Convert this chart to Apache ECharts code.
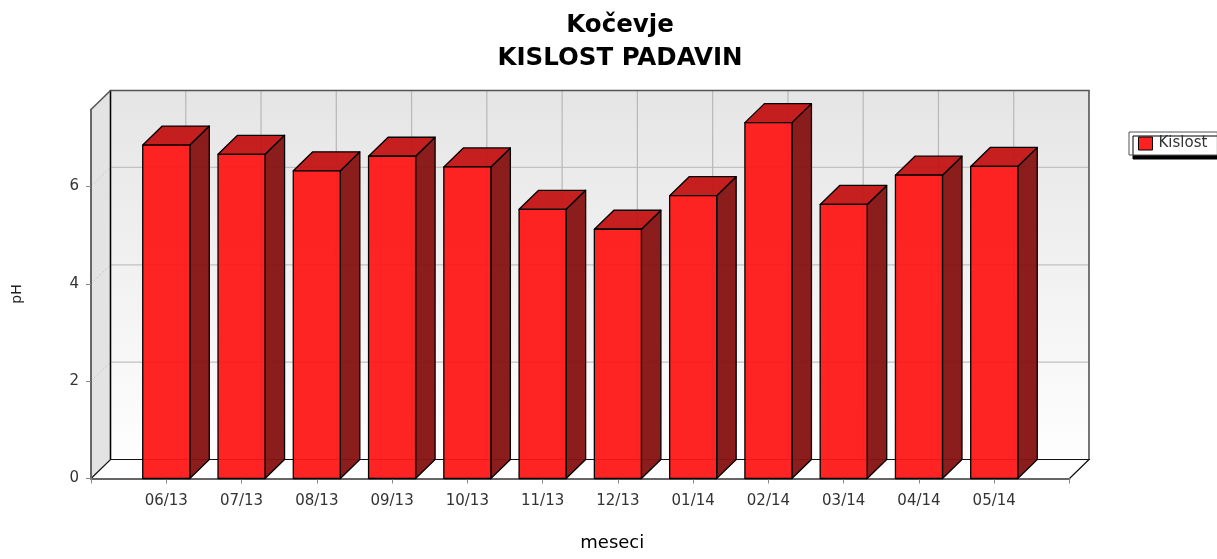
<!DOCTYPE html>
<html>
<head>
<meta charset="utf-8">
<title>Kočevje – kislost padavin</title>
<script src="https://cdn.jsdelivr.net/npm/echarts@6/dist/echarts.min.js"></script>
<style>
  html, body { margin: 0; padding: 0; background: #ffffff; }
  #chart { width: 1217px; height: 559px; }
</style>
</head>
<body>
<div id="chart"></div>
<script>
// Monthly precipitation acidity (pH), Kočevje
const categories = ['06/13', '07/13', '08/13', '09/13', '10/13', '11/13',
                    '12/13', '01/14', '02/14', '03/14', '04/14', '05/14'];
const phValues = [6.85, 6.66, 6.32, 6.62, 6.40, 5.53, 5.12, 5.81, 7.31, 5.63, 6.23, 6.41];
const yTickValues = [0, 2, 4, 6];

// axis extents (category slots run from X_MIN to X_MAX around the 12 months)
const X_MIN = -1, X_MAX = 12;
const Y_MIN = 0, Y_MAX = 7.58;

// 3D look: depth offset of the back wall in pixels, bar width in category units
const DX = 19.5, DY = 19;
const BAR_W = 0.625;

const FONT = '"DejaVu Sans", sans-serif';

function backPt(p) { return [p[0] + DX, p[1] - DY]; }

// walls, floor and back-wall grid lines of the 3D plot box
function renderWalls(params, api) {
  const f00 = api.coord([X_MIN, Y_MIN]);
  const f10 = api.coord([X_MAX, Y_MIN]);
  const f01 = api.coord([X_MIN, Y_MAX]);
  const f11 = api.coord([X_MAX, Y_MAX]);
  const b00 = backPt(f00), b10 = backPt(f10), b01 = backPt(f01), b11 = backPt(f11);
  const kids = [];

  // back wall with light vertical gradient
  kids.push({
    type: 'rect',
    shape: { x: b01[0], y: b01[1], width: b11[0] - b01[0], height: b00[1] - b01[1] },
    style: {
      fill: new echarts.graphic.LinearGradient(0, 0, 0, 1, [
        { offset: 0, color: '#e5e5e5' },
        { offset: 1, color: '#fefefe' }
      ]),
      stroke: null
    }
  });
  // left wall
  kids.push({
    type: 'polygon',
    shape: { points: [f00, f01, b01, b00] },
    style: { fill: '#e3e3e3', stroke: null }
  });
  // floor
  kids.push({
    type: 'polygon',
    shape: { points: [f00, b00, b10, f10] },
    style: { fill: '#ffffff', stroke: null }
  });

  // horizontal grid lines on back wall + their traces on the left wall
  yTickValues.forEach(function (v) {
    if (v === Y_MIN) return;
    const fl = api.coord([X_MIN, v]);
    const fr = api.coord([X_MAX, v]);
    const bl = backPt(fl), br = backPt(fr);
    kids.push({
      type: 'line',
      shape: { x1: bl[0], y1: bl[1], x2: br[0], y2: br[1] },
      style: { stroke: '#c2c2c2', lineWidth: 1.2 }
    });
    kids.push({
      type: 'line',
      shape: { x1: fl[0], y1: fl[1], x2: bl[0], y2: bl[1] },
      style: { stroke: '#c8c8c8', lineWidth: 1, lineDash: [2, 2] }
    });
  });
  // vertical grid lines on back wall at each month
  categories.forEach(function (c, i) {
    const pb = backPt(api.coord([i, Y_MIN]));
    const pt = backPt(api.coord([i, Y_MAX]));
    kids.push({
      type: 'line',
      shape: { x1: pb[0], y1: pb[1], x2: pt[0], y2: pt[1] },
      style: { stroke: '#b8b8b8', lineWidth: 1.2 }
    });
  });

  // box outlines
  kids.push({
    type: 'polyline',
    shape: { points: [b00, b01, b11, b10] },
    style: { stroke: '#555555', lineWidth: 1.6, fill: null }
  });
  kids.push({
    type: 'line',
    shape: { x1: b01[0], y1: b01[1], x2: b00[0], y2: b00[1] },
    style: { stroke: '#000000', lineWidth: 1.2 }
  });
  kids.push({
    type: 'polyline',
    shape: { points: [f00, b00, b10, f10] },
    style: { stroke: '#111111', lineWidth: 1.2, fill: null }
  });
  kids.push({
    type: 'line',
    shape: { x1: f01[0], y1: f01[1], x2: b01[0], y2: b01[1] },
    style: { stroke: '#555555', lineWidth: 1.6 }
  });

  return { type: 'group', children: kids };
}

// one 3D bar: front face, top face and right side face
function renderBar(params, api) {
  const i = api.value(0);
  const v = api.value(1);
  const base = api.coord([i, Y_MIN]);
  const top = api.coord([i, v]);
  const half = api.size([BAR_W, 0])[0] / 2;
  const x0 = base[0] - half, x1 = base[0] + half;
  const yt = top[1], yb = base[1];
  const edge = { stroke: '#000000', lineWidth: 1.3, lineJoin: 'round' };
  return {
    type: 'group',
    children: [
      {
        type: 'polygon',
        shape: { points: [[x1, yt], [x1 + DX, yt - DY], [x1 + DX, yb - DY], [x1, yb]] },
        style: Object.assign({ fill: 'rgba(135,20,20,0.96)' }, edge)
      },
      {
        type: 'polygon',
        shape: { points: [[x0, yt], [x0 + DX, yt - DY], [x1 + DX, yt - DY], [x1, yt]] },
        style: Object.assign({ fill: 'rgba(196,22,22,0.96)' }, edge)
      },
      {
        type: 'rect',
        shape: { x: x0, y: yt, width: x1 - x0, height: yb - yt },
        style: Object.assign({ fill: 'rgba(255,22,22,0.94)' }, edge)
      }
    ]
  };
}

const chart = echarts.init(document.getElementById('chart'), null, { renderer: 'canvas' });

chart.setOption({
  animation: false,
  backgroundColor: '#ffffff',
  title: {
    text: 'Kočevje\nKISLOST PADAVIN',
    left: 620,
    textAlign: 'center',
    top: 4,
    padding: [5, 0, 5, 0],
    textStyle: {
      fontFamily: FONT,
      fontWeight: 'bold',
      fontSize: 24.5,
      lineHeight: 33,
      color: '#000000'
    }
  },
  legend: {
    data: [{
      name: 'Kislost',
      icon: 'rect',
      itemStyle: { color: '#ff2020', borderColor: '#000000', borderWidth: 1 }
    }],
    left: 1129,
    top: 132,
    orient: 'vertical',
    padding: [4, 10, 4, 9],
    itemWidth: 14,
    itemHeight: 13,
    backgroundColor: '#ffffff',
    borderColor: '#555555',
    borderWidth: 1,
    shadowColor: '#000000',
    shadowBlur: 0,
    shadowOffsetX: 4,
    shadowOffsetY: 4,
    selectedMode: false,
    textStyle: { fontFamily: FONT, fontSize: 15, color: '#333333', padding: [0, 0, 0, 1] }
  },
  grid: {
    left: 91,
    right: 147.5,
    top: 109.5,
    bottom: 80.5,
    containLabel: false
  },
  xAxis: {
    type: 'value',
    min: X_MIN,
    max: X_MAX,
    interval: 1,
    name: 'meseci',
    nameLocation: 'middle',
    nameGap: 56,
    nameTextStyle: {
      fontFamily: FONT,
      fontSize: 18,
      color: '#000000',
      padding: [0, 0, 0, 64]
    },
    axisLine: { show: true, onZero: false, lineStyle: { color: '#666666', width: 2 } },
    axisTick: { show: true, length: 5, lineStyle: { color: '#888888', width: 1 } },
    axisLabel: {
      margin: 15,
      fontFamily: FONT,
      fontSize: 15,
      color: '#333333',
      formatter: function (val) {
        return categories[val] !== undefined ? categories[val] : '';
      }
    },
    splitLine: { show: false }
  },
  yAxis: {
    type: 'value',
    min: Y_MIN,
    max: Y_MAX,
    interval: 2,
    name: 'pH',
    nameLocation: 'middle',
    nameGap: 67,
    nameTextStyle: { fontFamily: FONT, fontSize: 14, color: '#222222' },
    axisLine: { show: true, onZero: false, lineStyle: { color: '#666666', width: 2 } },
    axisTick: {
      show: true,
      length: 5,
      customValues: yTickValues,
      lineStyle: { color: '#888888', width: 1 }
    },
    axisLabel: {
      margin: 12,
      fontFamily: FONT,
      fontSize: 15,
      color: '#333333',
      customValues: yTickValues
    },
    splitLine: { show: false }
  },
  series: [
    {
      name: 'plotBox',
      type: 'custom',
      z: -1,
      silent: true,
      renderItem: renderWalls,
      data: [[0, 0]],
      clip: false
    },
    {
      name: 'Kislost',
      type: 'custom',
      z: 3,
      renderItem: renderBar,
      data: categories.map(function (c, i) { return [i, phValues[i]]; }),
      clip: false
    }
  ]
});
</script>
</body>
</html>
